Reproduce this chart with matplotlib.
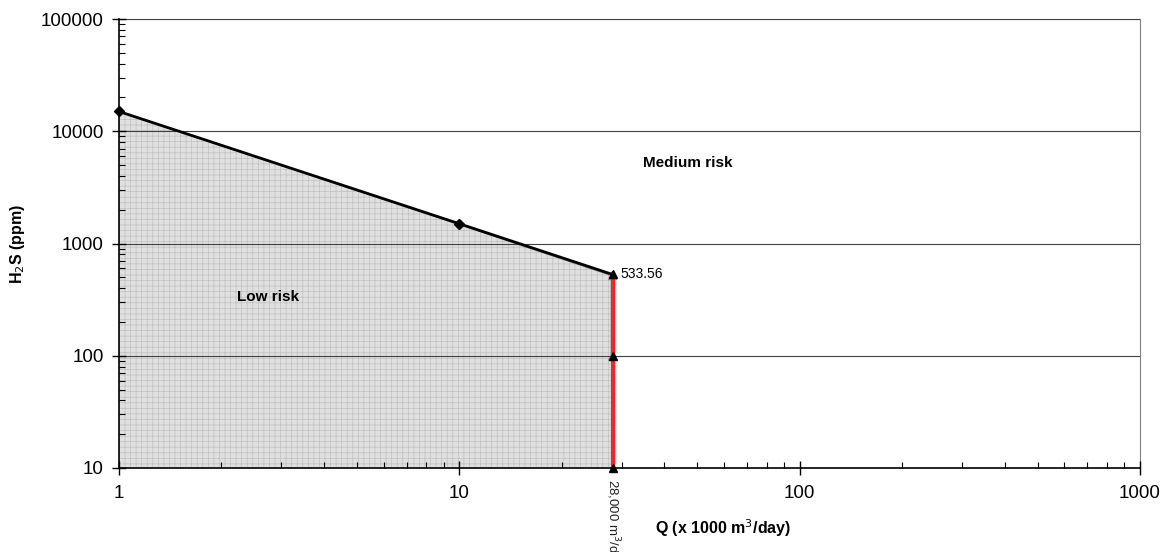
import matplotlib
matplotlib.use("Agg")
import matplotlib.pyplot as plt
from matplotlib.ticker import FixedLocator, LogLocator, NullFormatter

plt.rcParams["font.family"] = ["Liberation Sans", "DejaVu Sans"]
plt.rcParams["hatch.linewidth"] = 0.5
plt.rcParams["hatch.color"] = "#c0c0c0"

# limit curve (black) and low-risk area boundary (grey)
q_limit = [1, 10, 28]
h2s_limit = [15000, 1500, 533.56]
q_area = [1, 10, 28, 28, 28]
h2s_area = [15000, 1480, 520, 100, 10]

# 28,000 m3/d capacity line
q_cap = [28, 28, 28]
h2s_cap = [533.56, 100, 10]

Y_TICKS = [10, 100, 1000, 10000, 100000]
X_TICKS = [1, 10, 100, 1000]

fig = plt.figure(figsize=(11.74, 5.52), dpi=100)
ax = fig.add_axes([119 / 1174, 84 / 552, 1021 / 1174, 449 / 552])
ax.set_xscale("log")
ax.set_yscale("log")
ax.set_xlim(1, 1000)
ax.set_ylim(10, 100000)

# shaded low-risk region
ax.fill_between(q_area, h2s_area, 10, facecolor="#e0e0e0", edgecolor="#c0c0c0",
                hatch="+++", linewidth=0, zorder=1)
ax.plot(q_area[:4], h2s_area[:4], color="#8c8c8c", lw=1.2, zorder=2)
ax.plot([10], [1480], marker="D", color="#8c8c8c", ms=5, zorder=2)
ax.plot([28, 28], [520, 100], ls="none", marker="^", color="#8c8c8c", ms=6, zorder=2)

ax.plot([q * 1.01 for q in q_cap], h2s_cap, color="#ff2020", lw=3, zorder=3)
ax.plot([q * 1.01 for q in q_cap], h2s_cap, ls="none", marker="^", color="black",
        ms=6, zorder=4, clip_on=False)

ax.plot(q_limit[:2], h2s_limit[:2], color="black", lw=2, marker="D", ms=5, zorder=4, clip_on=False)
ax.plot(q_limit[1:], h2s_limit[1:], color="black", lw=2, zorder=4)

ax.yaxis.grid(True, which="major", color="#404040", lw=0.8)
ax.set_axisbelow(False)

ax.xaxis.set_major_locator(FixedLocator(X_TICKS))
ax.yaxis.set_major_locator(FixedLocator(Y_TICKS))
ax.set_xticklabels([str(v) for v in X_TICKS])
ax.set_yticklabels([str(v) for v in Y_TICKS])
ax.xaxis.set_minor_locator(LogLocator(base=10, subs=range(2, 10)))
ax.yaxis.set_minor_locator(LogLocator(base=10, subs=range(2, 10)))
ax.xaxis.set_minor_formatter(NullFormatter())
ax.yaxis.set_minor_formatter(NullFormatter())
ax.tick_params(which="major", direction="inout", length=10, width=1, labelsize=13.5, color="black")
ax.tick_params(axis="x", which="major", pad=7)
ax.tick_params(axis="y", which="major", pad=6)
ax.tick_params(which="minor", direction="in", length=4, width=0.8, color="black")

for side in ["top", "right"]:
    ax.spines[side].set_color("#808080")
for side in ["left", "bottom"]:
    ax.spines[side].set_color("black")
    ax.spines[side].set_linewidth(1.2)

ax.set_xlabel("Q (x 1000 m$^3$/day)", fontsize=11.5, fontweight="bold", va="center")
ax.xaxis.set_label_coords(0.592, -0.134)
ax.set_ylabel("H$_2$S (ppm)", fontsize=11.5, fontweight="bold", va="center")
ax.yaxis.set_label_coords(-0.099, 0.5)

ax.text(47, 5200, "Medium risk", fontsize=11, fontweight="bold", ha="center", va="center")
ax.text(2.75, 333, "Low risk", fontsize=11, fontweight="bold", ha="center", va="center")
ax.text(29.8, 540, "533.56", fontsize=10, ha="left", va="center")
ax.text(28.2, 7.9, "28,000 m$^3$/d", fontsize=9.5, rotation=-90, ha="center", va="top", color="#202020")

fig.savefig("out.png", dpi=100)
